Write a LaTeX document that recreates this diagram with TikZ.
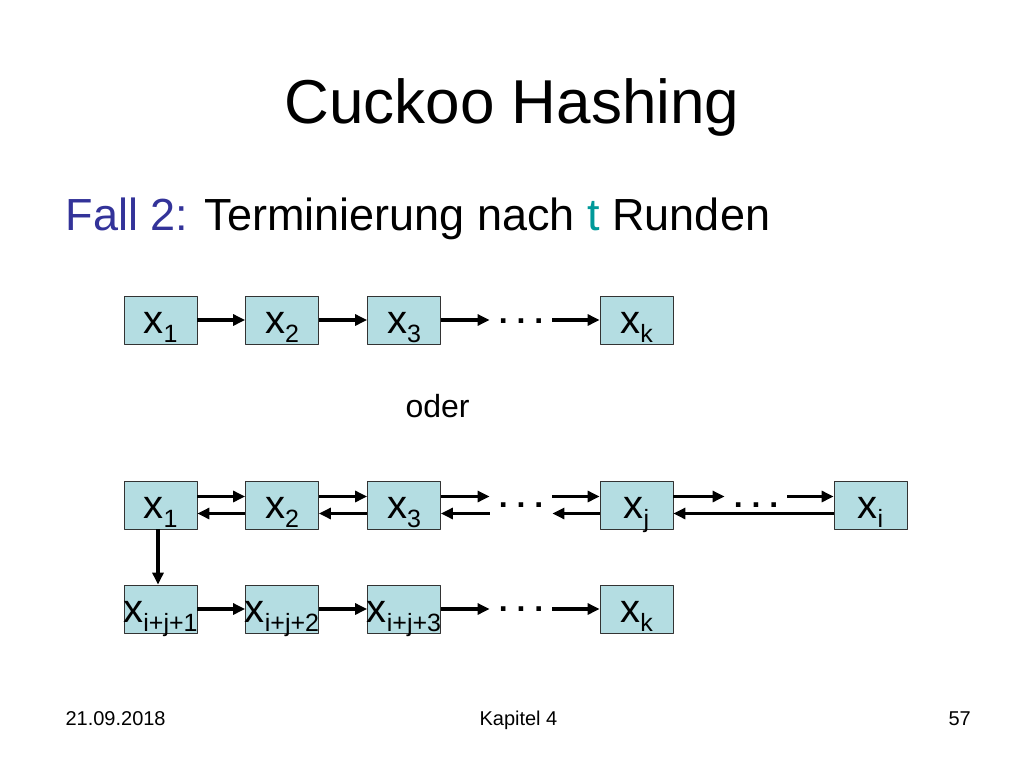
\documentclass[tikz,border=0pt]{standalone}
\usepackage{fontspec}
\setmainfont{Liberation Sans}
\usetikzlibrary{arrows.meta}
\definecolor{boxfill}{RGB}{180,221,226}
\definecolor{fallblue}{RGB}{51,51,153}
\definecolor{tteal}{RGB}{0,153,153}
\newcommand{\idx}[1]{\raisebox{-9pt}{\fontsize{25}{25}\selectfont #1}}

\begin{document}
\begin{tikzpicture}
 [line cap=round,line join=round,x=1pt,y=-1pt,
 elem/.style={draw=black!80,line width=0.8pt,fill=boxfill,minimum width=73pt,
   minimum height=48pt,inner sep=0pt,text height=30pt,text depth=4pt,
   font=\fontsize{40}{40}\selectfont},
 arr/.style={line width=3.2pt,line cap=butt,-{Triangle[length=12pt,width=11pt]}},
 gapdots/.style={anchor=base,inner xsep=9pt,inner ysep=0pt,font=\fontsize{32}{32}\selectfont\bfseries}]
\useasboundingbox (0,0) rectangle (1024,768);

\node[anchor=base] (title) at (512,123) {\fontsize{62}{70}\selectfont Cuckoo Hashing};
\node[anchor=base west] (fall) at (62,230) {\fontsize{45}{50}\selectfont
	\textcolor{fallblue}{Fall 2:} Terminierung nach \textcolor{tteal}{t} Runden};
\node[anchor=base west] (oder) at (402,417) {\fontsize{32}{36}\selectfont oder};

% first chain
\foreach \n/\x/\lab in {1/160.5/1,2/282/2,3/404/3,k/636.5/k}
{
	\node[elem] (a\n) at (\x,320) {x\idx{\lab}};
}
\node[gapdots] (da) at (521,323) {.\ .\ .};
\draw[arr] (a1) -- (a2);
\draw[arr] (a2) -- (a3);
\draw[arr] (a3) -- (a3 -| da.west);
\draw[arr] (da.east |- ak) -- (ak);

% chain with loop
\foreach \n/\x/\lab in {1/160.5/1,2/282/2,3/404/3,j/636.5/j,i/870.5/i}
{
	\node[elem] (b\n) at (\x,505) {x\idx{\lab}};
}
\node[gapdots] (db1) at (521,507) {.\ .\ .};
\node[gapdots] (db2) at (756,507) {.\ .\ .};
\foreach \p/\q in {b1/b2,b2/b3}
{
	\draw[arr] ([yshift=8.5pt]\p.east) -- ([yshift=8.5pt]\q.west);
	\draw[arr] ([yshift=-8.5pt]\q.west) -- ([yshift=-8.5pt]\p.east);
}
\draw[arr] ([yshift=8.5pt]b3.east) -- ([yshift=8.5pt]b3.east -| db1.west);
\draw[arr] ([yshift=-8.5pt]b3.east -| db1.west) -- ([yshift=-8.5pt]b3.east);
\draw[arr] ([yshift=8.5pt]db1.east |- bj.west) -- ([yshift=8.5pt]bj.west);
\draw[arr] ([yshift=-8.5pt]bj.west) -- ([yshift=-8.5pt]db1.east |- bj.west);
\draw[arr] ([yshift=8.5pt]bj.east) -- ([yshift=8.5pt]bj.east -| db2.west);
\draw[arr] ([yshift=8.5pt]db2.east |- bi.west) -- ([yshift=8.5pt]bi.west);
\draw[arr] ([yshift=-8.5pt]bi.west) -- ([yshift=-8.5pt]bj.east);

% tail
\foreach \n/\x/\lab in {1/160.5/i+j+1,2/282/i+j+2,3/404/i+j+3,k/636.5/k}
{
	\node[elem] (c\n) at (\x,609) {\makebox[71pt]{x\idx{\lab}}};
}
\node[gapdots] (dc) at (521,611) {.\ .\ .};
\draw[arr] ([xshift=-2.5pt]b1.south) -- ([xshift=-2.5pt]c1.north);
\draw[arr] (c1) -- (c2);
\draw[arr] (c2) -- (c3);
\draw[arr] (c3) -- (c3 -| dc.west);
\draw[arr] (dc.east |- ck) -- (ck);

\node[anchor=base west] (date) at (62,725) {\fontsize{20}{24}\selectfont 21.09.2018};
\node[anchor=base west] (kap) at (476,725) {\fontsize{20}{24}\selectfont Kapitel 4};
\node[anchor=base west] (page) at (945,725) {\fontsize{20}{24}\selectfont 57};
\end{tikzpicture}
\end{document}
